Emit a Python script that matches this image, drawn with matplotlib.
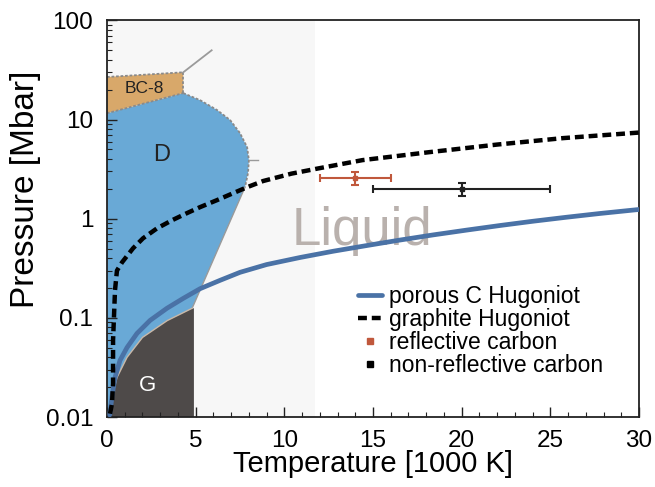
import numpy as np
import matplotlib
matplotlib.use("Agg")
import matplotlib.pyplot as plt
from matplotlib.ticker import MultipleLocator, LogLocator, NullFormatter

plt.rcParams['font.family'] = ['Liberation Sans', 'DejaVu Sans']

# phase boundaries (T in 1000 K, P in Mbar)
bc8_top_T = [0.0, 4.3]
bc8_top_P = [26.9, 30.0]
bc8_bot_T = [0.0, 4.3]
bc8_bot_P = [11.6, 18.5]
d_right_T = [4.3, 5.25, 6.2, 6.94, 7.5, 7.9, 8.0, 7.95, 7.78, 4.8]
d_right_P = [18.5, 15.7, 12.5, 9.9, 7.3, 5.27, 3.9, 2.88, 2.08, 0.125]
g_top_T = [4.8, 3.4, 2.0, 1.13, 0.56, 0.28, 0.06]
g_top_P = [0.125, 0.094, 0.0635, 0.040, 0.025, 0.0157, 0.0108]

# porous C Hugoniot
porous_T = [0.15, 0.3, 0.45, 0.73, 1.13, 1.69, 2.43, 3.38, 4.29, 5.25, 6.37, 7.5, 9.0,
            10.9, 12.75, 14.66, 16.53, 18.39, 20.3, 22.17, 24.03, 25.9, 27.8, 30.0]
porous_P = [0.0105, 0.017, 0.0251, 0.0372, 0.0503, 0.0697, 0.0944, 0.125, 0.157, 0.197,
            0.239, 0.288, 0.345, 0.407, 0.470, 0.537, 0.610, 0.687, 0.769, 0.855, 0.944,
            1.035, 1.13, 1.24]

# graphite Hugoniot
graphite_T = [0.17, 0.28, 0.34, 0.34, 0.34, 0.39, 0.45, 0.56, 0.85, 1.47, 2.03, 2.82, 3.67,
              4.51, 5.25, 6.2, 7.11, 7.9, 8.8, 10.4, 12.0, 14.4, 18.2, 22.0, 25.7, 30.0]
graphite_P = [0.0108, 0.0137, 0.0218, 0.0372, 0.0593, 0.101, 0.19, 0.30, 0.364, 0.504, 0.635,
              0.80, 0.966, 1.14, 1.31, 1.54, 1.81, 2.08, 2.4, 2.85, 3.24, 3.9, 4.7, 5.6,
              6.5, 7.4]

# measurements
refl_T, refl_Terr, refl_P, refl_Perr = [14.0], [2.0], [2.57], [0.38]
nonrefl_T, nonrefl_Terr, nonrefl_P, nonrefl_Perr = [20.0], [5.0], [1.99], [0.3]

fig = plt.figure(figsize=(6.55, 4.87), dpi=100)
ax = fig.add_axes([0.1634, 0.1437, 0.8122, 0.8143])
ax.set_yscale('log')
ax.set_xlim(0, 30)
ax.set_ylim(0.01, 100)

# light background of the phase diagram panel
ax.axvspan(0, 11.7, color='#f7f7f7', zorder=0, lw=0)

# D region
dT = [0.0] + bc8_bot_T[1:] + d_right_T[1:] + g_top_T[1:] + [0.0]
dP = [bc8_bot_P[0]] + bc8_bot_P[1:] + d_right_P[1:] + g_top_P[1:] + [0.01]
ax.fill(dT, dP, color='#69a9d6', lw=0, zorder=1)

# BC-8 region
bT = bc8_top_T + bc8_bot_T[::-1]
bP = bc8_top_P + bc8_bot_P[::-1]
ax.fill(bT, bP, color='#d8a86a', lw=0, zorder=1)

# G region
gT = g_top_T + [0.0, 0.0, 4.9, 4.9]
gP = g_top_P + [0.0108, 0.01, 0.01, 0.125]
ax.fill(gT, gP, color='#4e4a49', lw=0, zorder=1)

# boundaries
bkw = dict(color='#8a8a8a', lw=1.3, ls=(0, (1.5, 1)), zorder=2)
ax.plot(bc8_top_T, bc8_top_P, **bkw)
ax.plot(bc8_bot_T, bc8_bot_P, **bkw)
ax.plot([4.3, 4.3], [18.5, 30.0], **bkw)
ax.plot(d_right_T[:9], d_right_P[:9], **bkw)
ax.plot(d_right_T[8:], d_right_P[8:], color='#9a9a9a', lw=1.0, zorder=2)
ax.plot(g_top_T, g_top_P, color='#c8b8a8', lw=1.0, zorder=2)
ax.plot([4.3, 5.9], [30.0, 50.0], color='#9a9a9a', lw=1.3, zorder=2)
ax.plot([8.0, 8.5], [3.9, 3.9], color='#9a9a9a', lw=1.0, zorder=2)

ax.text(2.1, 20.5, 'BC-8', fontsize=12.5, ha='center', va='center', color='#222222', zorder=3)
ax.text(3.1, 4.4, 'D', fontsize=17, ha='center', va='center', color='#222222', zorder=3)
ax.text(2.26, 0.021, 'G', fontsize=16, ha='center', va='center', color='white', zorder=3)
ax.text(14.4, 0.75, 'Liquid', fontsize=38, ha='center', va='center', color='#b9b1ad', zorder=2)

ax.plot(porous_T, porous_P, color='#4a72a6', lw=3.4, zorder=4,
        solid_capstyle='round', solid_joinstyle='round', label='porous C Hugoniot')
ax.plot(graphite_T, graphite_P, color='black', lw=3.2, ls=(0, (2.0, 1.1)),
        zorder=5, label='graphite Hugoniot')

ax.errorbar(refl_T, refl_P, xerr=refl_Terr, yerr=refl_Perr, fmt='s', ms=3,
            color='#c0583c', ecolor='#c0583c', elinewidth=1.5, capsize=3,
            capthick=1.5, zorder=6)
ax.errorbar(nonrefl_T, nonrefl_P, xerr=nonrefl_Terr, yerr=nonrefl_Perr, fmt='s', ms=3,
            color='#222222', ecolor='#222222', elinewidth=1.5, capsize=3,
            capthick=1.5, zorder=6)

# legend proxies
ax.plot([], [], 's', ms=4, color='#c0583c', label='reflective carbon')
ax.plot([], [], 's', ms=4, color='black', label='non-reflective carbon')
leg = ax.legend(loc='upper left', bbox_to_anchor=(0.455, 0.355), frameon=False,
                fontsize=16.5, handlelength=1.05, handletextpad=0.3,
                labelspacing=0.0, borderaxespad=0)

ax.set_xticks([0, 5, 10, 15, 20, 25, 30])
ax.xaxis.set_minor_locator(MultipleLocator(1))
ax.set_yticks([0.01, 0.1, 1, 10, 100])
ax.set_yticklabels(['0.01', '0.1', '1', '10', '100'])
ax.yaxis.set_minor_locator(LogLocator(base=10, subs=np.arange(2, 10)))
ax.yaxis.set_minor_formatter(NullFormatter())
ax.tick_params(which='both', direction='in', labelsize=17.5, color='#222222')
ax.tick_params(which='major', length=7, width=1.0)
ax.tick_params(which='minor', length=3.5, width=0.8)
ax.tick_params(axis='x', pad=9)
ax.tick_params(axis='y', pad=10)

for s in ax.spines.values():
    s.set_linewidth(1.3)
    s.set_color('#222222')

ax.set_xlabel('Temperature [1000 K]', fontsize=21, labelpad=-1)
ax.set_ylabel('Pressure [Mbar]', fontsize=24)
ax.yaxis.set_label_coords(-0.125, 0.573)

fig.savefig('out.png', dpi=100)
